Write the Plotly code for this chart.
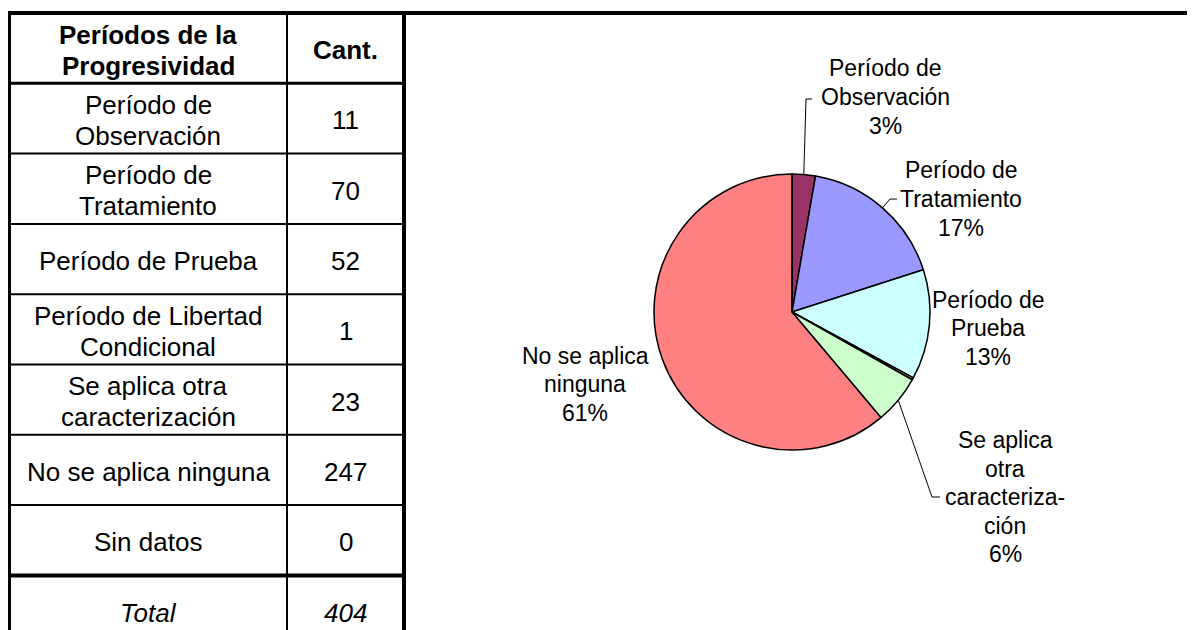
import math
import plotly.graph_objects as go

# ---- data ----
periods = [
    "Período de Observación",
    "Período de Tratamiento",
    "Período de Prueba",
    "Período de Libertad Condicional",
    "Se aplica otra caracterización",
    "No se aplica ninguna",
    "Sin datos",
]
table_labels = [
    "Período de<br>Observación",
    "Período de<br>Tratamiento",
    "Período de Prueba",
    "Período de Libertad<br>Condicional",
    "Se aplica otra<br>caracterización",
    "No se aplica ninguna",
    "Sin datos",
]
counts = [11, 70, 52, 1, 23, 247, 0]
header = ["Períodos de la<br>Progresividad", "Cant."]
total_label = "Total"
pie_labels = [
    "Período de<br>Observación",
    "Período de<br>Tratamiento",
    "Período de<br>Prueba",
    None,
    "Se aplica<br>otra<br>caracteriza-<br>ción",
    "No se aplica<br>ninguna",
    None,
]
colors = ["#993366", "#9999FF", "#CCFFFF", "#FFFFCC", "#CCFFCC", "#FF8080", "#FFCC99"]

# ---- layout helpers (window pixel -> paper) ----
W, H = 1195, 630
OFF = 8  # page body margin
FONT = "Liberation Sans, Arial, sans-serif"


def px(x):
    return (x - OFF) / W


def py(y):
    return 1 - (y - OFF) / H


total = sum(counts)

# table geometry
top = 13
row_h = 70.3
col_x = [9, 287, 404]
table_size, table_pitch, table_dy = 26, 31, 2

# pie geometry
cx, cy, r = 792, 312, 138
label_size, label_pitch = 23, 28.5

# label placement (text centres) and leader elbows
label_pos = {0: (885, 97), 1: (961, 199), 2: (988, 328), 4: (1005, 497), 5: (585, 384)}
leaders = {0: [(806, 99), (812, 99)], 1: [(890, 199), (897, 199)], 4: [(932, 497), (940, 497)]}

fig = go.Figure()
fig.add_trace(go.Pie(
    values=counts,
    labels=periods,
    sort=False,
    direction="clockwise",
    rotation=0,
    textinfo="none",
    hoverinfo="label+value+percent",
    marker=dict(colors=colors, line=dict(color="black", width=1.5)),
    domain=dict(x=[px(cx - r), px(cx + r)], y=[py(cy + r), py(cy - r)]),
    showlegend=False,
))

shapes = []
annotations = []


def hline(y, x0, x1, w):
    shapes.append(dict(type="line", xref="paper", yref="paper", x0=px(x0), x1=px(x1),
                       y0=py(y), y1=py(y), line=dict(color="black", width=w)))


def vline(x, y0, y1, w):
    shapes.append(dict(type="line", xref="paper", yref="paper", x0=px(x), x1=px(x),
                       y0=py(y0), y1=py(y1), line=dict(color="black", width=w)))


def text_block(txt, x, y, size, pitch, style=None):
    # one annotation per line so the line spacing can be set
    lines = txt.split("<br>")
    for k, line in enumerate(lines):
        if style:
            line = f"<{style}>{line}</{style}>"
        yy = y + (k - (len(lines) - 1) / 2) * pitch
        annotations.append(dict(
            x=px(x), y=py(yy), xref="paper", yref="paper",
            text=line, showarrow=False, xanchor="center", yanchor="middle",
            font=dict(family=FONT, size=size, color="black"),
        ))


# frame
hline(top, 7, W + OFF, 4)
vline(col_x[0], top - 2, H + OFF, 4)
vline(col_x[2], top, H + OFF, 4)
vline(col_x[1], top, H + OFF, 2)

rows = [header] + [[t, str(c)] for t, c in zip(table_labels, counts)] + [[total_label, str(total)]]
for i, row in enumerate(rows):
    y_mid = top + (i + 0.5) * row_h + table_dy
    if i > 0:
        w = 3 if i == 1 else (4 if i == len(rows) - 1 else 2)
        hline(top + i * row_h, col_x[0], col_x[2], w)
    style = "b" if i == 0 else ("i" if i == len(rows) - 1 else None)
    for j, txt in enumerate(row):
        text_block(txt, (col_x[j] + col_x[j + 1]) / 2, y_mid, table_size, table_pitch, style)

# pie labels and leader lines
cum = 0
for i, v in enumerate(counts):
    mid = (cum + v / 2) / total * 2 * math.pi
    cum += v
    if pie_labels[i] is None:
        continue
    pct = round(v / total * 100)
    lx, ly = label_pos[i]
    text_block(f"{pie_labels[i]}<br>{pct}%", lx, ly, label_size, label_pitch)
    if i in leaders:
        ex, ey = cx + r * math.sin(mid), cy - r * math.cos(mid)
        pts = [(ex, ey)] + leaders[i]
        path = "M " + " L ".join(f"{px(x)},{py(y)}" for x, y in pts)
        shapes.append(dict(type="path", xref="paper", yref="paper", path=path,
                           line=dict(color="black", width=1)))

fig.update_layout(
    width=W, height=H,
    margin=dict(l=0, r=0, t=0, b=0),
    paper_bgcolor="white",
    plot_bgcolor="white",
    shapes=shapes,
    annotations=annotations,
)

fig.write_html("out.html")
